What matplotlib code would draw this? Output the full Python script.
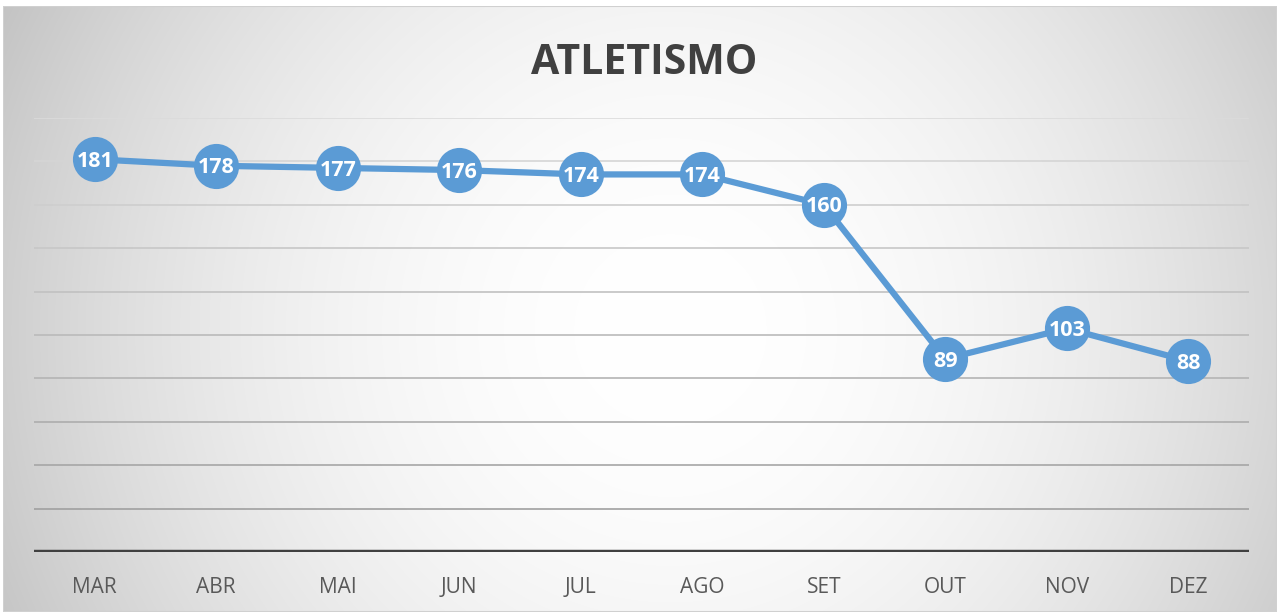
import numpy as np
import matplotlib.pyplot as plt
from matplotlib.patches import Rectangle

months = ["MAR", "ABR", "MAI", "JUN", "JUL", "AGO", "SET", "OUT", "NOV", "DEZ"]
atletas = [181, 178, 177, 176, 174, 174, 160, 89, 103, 88]
y_max = 200
y_step = 20

W, H = 1277, 612
fig = plt.figure(figsize=(W / 100, H / 100), dpi=100)
fig.patch.set_facecolor("white")

# radial gray-to-white background of the chart frame
fx0, fy1 = 3, 6
bg = fig.add_axes([fx0 / W, 0, 1 - fx0 / W, 1 - fy1 / H], zorder=-2)
gx, gy = np.meshgrid(np.arange(fx0, W), np.arange(fy1, H))
d = np.hypot(gx - 670, gy - 330) / 720
shade = 1.0 - 0.22 * np.clip(d, 0, 1.2) ** 2
bg.imshow(np.dstack([shade] * 3), aspect="auto", interpolation="bilinear",
          extent=[0, 1, 0, 1], origin="upper")
bg.add_patch(Rectangle((0, 0), 1, 1, transform=bg.transAxes, fill=False,
                       edgecolor="#d0d0d0", linewidth=1.5))
bg.set_axis_off()

ax = fig.add_axes([34 / W, 1 - 552 / H, (1249 - 34) / W, (552 - 118) / H])
ax.set_facecolor("none")
x = np.arange(len(months))

# horizontal gridlines, lighter toward the top
levels = np.arange(y_step, y_max + 1, y_step)
for lv in levels:
    t = lv / y_max
    g = 0.60 + 0.26 * t
    ax.axhline(lv, color=(g, g, g), linewidth=1.2, zorder=1)
ax.axhline(0, color="#404040", linewidth=3.2, zorder=2)

ax.plot(x, atletas, color="#5B9BD5", linewidth=4.5, marker="o",
        markersize=32.5, markerfacecolor="#5B9BD5", markeredgewidth=0,
        solid_capstyle="round", zorder=3)
for xi, v in zip(x, atletas):
    ax.text(xi, v - 1.0, str(v), ha="center", va="center", color="white",
            fontsize=15.5, fontweight="bold", family="Open Sans", zorder=4)

ax.set_xlim(-0.5, len(months) - 0.5)
ax.set_ylim(0, y_max)
ax.set_yticks([])
ax.set_xticks(x)
ax.set_xticklabels(months, family="Open Sans", fontsize=15, color="#595959")
ax.tick_params(axis="x", length=0, pad=18)
for s in ax.spines.values():
    s.set_visible(False)

fig.text(644 / W, 1 - 63 / H, "ATLETISMO", ha="center", va="center",
         fontsize=29.5, fontweight="bold", family="Open Sans", color="#404040")

fig.savefig("out.png", dpi=100, facecolor=fig.get_facecolor())
